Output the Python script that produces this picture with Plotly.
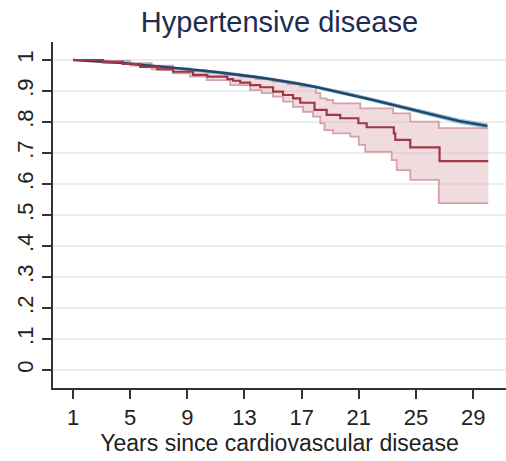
import plotly.graph_objects as go

# Survival estimate for the comparison group (navy), read yearly
blue_years = list(range(1, 31))
blue_surv = [1.000, 0.998, 0.995, 0.992, 0.988, 0.984, 0.979, 0.975, 0.970, 0.966,
             0.961, 0.956, 0.950, 0.944, 0.937, 0.930, 0.922, 0.913, 0.903, 0.893,
             0.882, 0.871, 0.860, 0.849, 0.838, 0.827, 0.815, 0.803, 0.795, 0.787]
blue_lo = [1.000, 0.997, 0.993, 0.990, 0.986, 0.982, 0.977, 0.972, 0.967, 0.963,
           0.958, 0.952, 0.946, 0.940, 0.933, 0.926, 0.918, 0.909, 0.899, 0.888,
           0.877, 0.866, 0.855, 0.843, 0.832, 0.820, 0.808, 0.796, 0.788, 0.780]
blue_hi = [1.000, 0.999, 0.997, 0.994, 0.990, 0.986, 0.981, 0.978, 0.973, 0.969,
           0.964, 0.960, 0.954, 0.948, 0.941, 0.934, 0.926, 0.917, 0.907, 0.898,
           0.887, 0.876, 0.865, 0.855, 0.844, 0.834, 0.822, 0.810, 0.802, 0.794]

# Kaplan-Meier step estimate for hypertensive disease (maroon)
red_t = [1, 3.1, 4.5, 5.7, 6.9, 8.0, 9.4, 10.4, 11.8, 12.2, 12.7, 13.4, 14.1, 15.0,
         15.7, 16.4, 16.9, 17.9, 18.75, 19.7, 20.97, 21.55, 23.45, 23.55, 24.6,
         26.65, 30.06]
red_surv = [1.0, 0.994, 0.987, 0.978, 0.970, 0.962, 0.952, 0.946, 0.938, 0.933,
            0.927, 0.919, 0.912, 0.898, 0.887, 0.876, 0.862, 0.839, 0.823, 0.812,
            0.796, 0.783, 0.763, 0.742, 0.718, 0.674, 0.674]

# Confidence limits of the maroon estimate
red_up_t = [1, 3.1, 5.0, 6.5, 8.0, 9.2, 10.4, 11.6, 12.7, 13.8, 15.0, 16.0, 16.9,
            18.0, 18.3, 18.75, 19.2, 21.1, 23.4, 24.6, 26.6, 30.06]
red_up = [1.0, 0.997, 0.990, 0.982, 0.973, 0.966, 0.960, 0.953, 0.946, 0.938,
          0.930, 0.922, 0.914, 0.893, 0.876, 0.871, 0.860, 0.844, 0.828, 0.801,
          0.780, 0.780]
red_lo_t = [1, 3.1, 5.0, 6.5, 8.0, 9.2, 10.35, 12.0, 13.4, 14.2, 15.0, 15.7, 16.4,
            17.1, 17.8, 18.3, 18.6, 19.2, 20.4, 21.0, 21.45, 23.3, 23.65, 24.6,
            26.6, 30.06]
red_lo = [1.0, 0.990, 0.982, 0.970, 0.957, 0.946, 0.935, 0.919, 0.903, 0.893,
          0.882, 0.866, 0.849, 0.833, 0.817, 0.796, 0.774, 0.763, 0.753, 0.726,
          0.704, 0.677, 0.645, 0.613, 0.538, 0.538]

x_ticks = [1, 5, 9, 13, 17, 21, 25, 29]
y_ticks = [0, 0.1, 0.2, 0.3, 0.4, 0.5, 0.6, 0.7, 0.8, 0.9, 1]
y_tick_text = ["0", ".1", ".2", ".3", ".4", ".5", ".6", ".7", ".8", ".9", "1"]

FONT = "Liberation Sans, Arial, sans-serif"
NAVY = "#1d4a6e"
MAROON = "#9e3746"
BAND_EDGE = "#d3a2aa"
BAND_FILL = "rgba(226,186,190,0.5)"

fig = go.Figure()

# maroon confidence band
fig.add_trace(go.Scatter(x=red_lo_t, y=red_lo, mode="lines", line_shape="hv",
                         line=dict(color=BAND_EDGE, width=1.8), hoverinfo="skip"))
fig.add_trace(go.Scatter(x=red_up_t, y=red_up, mode="lines", line_shape="hv",
                         line=dict(color=BAND_EDGE, width=1.8), fill="tonexty",
                         fillcolor=BAND_FILL, hoverinfo="skip"))

# navy confidence band and estimate
fig.add_trace(go.Scatter(x=blue_years, y=blue_lo, mode="lines",
                         line=dict(color="rgba(120,160,200,0.6)", width=1),
                         hoverinfo="skip"))
fig.add_trace(go.Scatter(x=blue_years, y=blue_hi, mode="lines",
                         line=dict(color="rgba(120,160,200,0.6)", width=1),
                         fill="tonexty", fillcolor="rgba(130,170,205,0.55)",
                         hoverinfo="skip"))
fig.add_trace(go.Scatter(x=blue_years, y=blue_surv, mode="lines",
                         line=dict(color=NAVY, width=2.6)))

# maroon estimate
fig.add_trace(go.Scatter(x=red_t, y=red_surv, mode="lines", line_shape="hv",
                         line=dict(color=MAROON, width=2.2)))

fig.update_layout(
    width=506, height=461,
    margin=dict(l=53, r=0, t=42, b=73),
    paper_bgcolor="white", plot_bgcolor="white",
    showlegend=False,
    font=dict(family=FONT, color="#222222"),
    title=dict(text="Hypertensive disease", x=0.5, xref="paper",
               y=1 - 22 / 461, yanchor="middle",
               font=dict(family=FONT, size=29, color="#1e2d52")),
)
fig.update_xaxes(
    range=[-0.4, 31.3], tickvals=x_ticks, ticktext=[str(v) for v in x_ticks],
    showgrid=False, zeroline=False,
    showline=True, linecolor="#333333", linewidth=1.6,
    ticks="outside", ticklen=9, tickwidth=1.6, tickcolor="#333333",
    tickfont=dict(size=22, color="#222222"),
    title=dict(text="Years since cardiovascular disease", standoff=0,
               font=dict(size=23, color="#222222")),
)
fig.update_yaxes(
    range=[-0.058, 1.058], tickvals=y_ticks, ticktext=y_tick_text, tickangle=-90,
    showgrid=True, gridcolor="#e9eef0", gridwidth=2, zeroline=False,
    showline=True, linecolor="#333333", linewidth=1.6,
    ticks="outside", ticklen=9, tickwidth=1.6, tickcolor="#333333",
    tickfont=dict(size=22, color="#222222"),
)

fig.write_html("out.html")
